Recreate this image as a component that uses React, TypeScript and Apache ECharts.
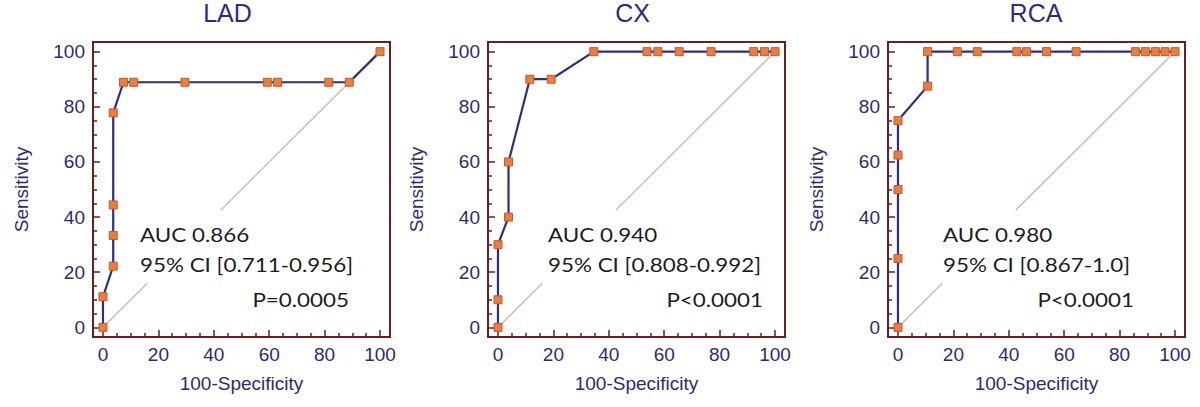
import React, { useEffect, useRef } from "react";
import * as echarts from "echarts";

// ---------- data ----------
const PANEL_TITLES = ["LAD", "CX", "RCA"];

const LAD_FPR = [0, 0, 3.7, 3.7, 3.7, 3.7, 7.4, 11.1, 29.6, 59.3, 63.0, 81.5, 88.9, 100];
const LAD_TPR = [0, 11.1, 22.2, 33.3, 44.4, 77.8, 88.9, 88.9, 88.9, 88.9, 88.9, 88.9, 88.9, 100];

const CX_FPR = [0, 0, 0, 3.8, 3.8, 11.5, 19.2, 34.6, 53.8, 57.7, 65.4, 76.9, 92.3, 96.2, 100];
const CX_TPR = [0, 10, 30, 40, 60, 90, 90, 100, 100, 100, 100, 100, 100, 100, 100];

const RCA_FPR = [0, 0, 0, 0, 0, 10.7, 10.7, 21.4, 28.6, 42.9, 46.4, 53.6, 64.3, 85.7, 89.3, 92.9, 96.4, 100];
const RCA_TPR = [0, 25, 50, 62.5, 75, 87.5, 100, 100, 100, 100, 100, 100, 100, 100, 100, 100, 100, 100];

const AUC_TEXTS = ["AUC 0.866", "AUC 0.940", "AUC 0.980"];
const CI_TEXTS = ["95% CI [0.711-0.956]", "95% CI [0.808-0.992]", "95% CI [0.867-1.0]"];
const P_TEXTS = ["P=0.0005", "P<0.0001", "P<0.0001"];

const MAJOR_TICKS = [0, 20, 40, 60, 80, 100];
const MINOR_TICKS = [5, 10, 15, 25, 30, 35, 45, 50, 55, 65, 70, 75, 85, 90, 95];

const DIAG_LOW = [[0, 0], [16, 16]];
const DIAG_HIGH = [[42.5, 42.5], [100, 100]];

const X_NAME = "100-Specificity";
const Y_NAME = "Sensitivity";

// ---------- layout / style ----------
const GRID_LEFT = [93, 488, 888];
const GRID_TOP = 42;
const GRID_W = 297;
const GRID_H = 295;
const X_MIN = -3.6;
const X_MAX = 103.6;
const Y_MIN = -3.5;
const Y_MAX = 103.5;

const TITLE_X = [227.5, 632.5, 1036];
const TITLE_Y = 12.5;
const NOTE_LEFT = [140, 548, 943];
const P_RIGHT = [349, 763, 1134];
const NOTE_Y = [234, 264, 299];

const FRAME = "#6B1E1E";
const NAVY = "#2B2A7A";
const TITLE_COLOR = "#2E2A86";
const CURVE = "#2D2E83";
const MARK = "#E97E3F";
const MARK_BORDER = "#C4592A";
const DIAG = "#C9C1BC";
const FONT = '"Liberation Sans", Arial, sans-serif';

export default function App() {
  const ref = useRef<HTMLDivElement>(null);

  useEffect(() => {
    document.body.style.margin = "0";
    if (!ref.current) return;
    const chart = echarts.init(ref.current, undefined, { renderer: "svg" });

    const curves = [
      [LAD_FPR, LAD_TPR],
      [CX_FPR, CX_TPR],
      [RCA_FPR, RCA_TPR],
    ];

    const grids: any[] = [];
    const xAxes: any[] = [];
    const yAxes: any[] = [];
    const series: any[] = [];
    const graphics: any[] = [];

    PANEL_TITLES.forEach((title, i) => {
      grids.push({
        left: GRID_LEFT[i],
        top: GRID_TOP,
        width: GRID_W,
        height: GRID_H,
        show: true,
        borderColor: FRAME,
        borderWidth: 2,
        backgroundColor: "transparent",
      });

      const common = {
        gridIndex: i,
        type: "value",
        splitLine: { show: false },
        axisLine: { show: false, onZero: false },
      };

      xAxes.push({
        ...common,
        min: X_MIN,
        max: X_MAX,
        position: "bottom",
        axisTick: {
          inside: true,
          length: 7,
          customValues: MAJOR_TICKS,
          lineStyle: { color: FRAME, width: 1.5 },
        },
        axisLabel: {
          customValues: MAJOR_TICKS,
          color: NAVY,
          fontSize: 19,
          fontFamily: FONT,
          margin: 8,
        },
        name: X_NAME,
        nameLocation: "middle",
        nameGap: 37,
        nameTextStyle: { color: NAVY, fontSize: 19, fontFamily: FONT },
      });
      xAxes.push({
        ...common,
        min: X_MIN,
        max: X_MAX,
        position: "bottom",
        axisTick: {
          inside: true,
          length: 4,
          customValues: MINOR_TICKS,
          lineStyle: { color: FRAME, width: 1.5 },
        },
        axisLabel: { show: false },
      });

      yAxes.push({
        ...common,
        min: Y_MIN,
        max: Y_MAX,
        position: "left",
        axisTick: {
          inside: true,
          length: 7,
          customValues: MAJOR_TICKS,
          lineStyle: { color: FRAME, width: 1.5 },
        },
        axisLabel: {
          customValues: MAJOR_TICKS,
          color: NAVY,
          fontSize: 19,
          fontFamily: FONT,
          margin: 8,
        },
        name: Y_NAME,
        nameLocation: "middle",
        nameGap: 62,
        nameTextStyle: { color: NAVY, fontSize: 19, fontFamily: FONT },
      });
      yAxes.push({
        ...common,
        min: Y_MIN,
        max: Y_MAX,
        position: "left",
        axisTick: {
          inside: true,
          length: 4,
          customValues: MINOR_TICKS,
          lineStyle: { color: FRAME, width: 1.5 },
        },
        axisLabel: { show: false },
      });

      const [fpr, tpr] = curves[i];
      const diagBase = {
        type: "line",
        xAxisIndex: 2 * i,
        yAxisIndex: 2 * i,
        symbol: "none",
        lineStyle: { color: DIAG, width: 1.5 },
        z: 1,
        silent: true,
      };
      series.push({ ...diagBase, name: title + " ref low", data: DIAG_LOW });
      series.push({ ...diagBase, name: title + " ref high", data: DIAG_HIGH });
      series.push({
        type: "line",
        name: title,
        xAxisIndex: 2 * i,
        yAxisIndex: 2 * i,
        data: fpr.map((x, k) => [x, tpr[k]]),
        symbol: "rect",
        symbolSize: 8,
        showAllSymbol: true,
        lineStyle: { color: CURVE, width: 2.2 },
        itemStyle: { color: MARK, borderColor: MARK_BORDER, borderWidth: 1 },
        z: 3,
        silent: true,
      });

      graphics.push({
        type: "text",
        x: TITLE_X[i],
        y: TITLE_Y,
        style: {
          text: title,
          font: `25px ${FONT}`,
          fill: TITLE_COLOR,
          textAlign: "center",
          textVerticalAlign: "middle",
        },
      });
      const noteStyle = { font: '20px Lato, "Open Sans", sans-serif', fill: "#1C1C1C", textVerticalAlign: "middle" };
      graphics.push({
        type: "text",
        x: NOTE_LEFT[i],
        y: NOTE_Y[0],
        scaleX: 1.12,
        style: { ...noteStyle, text: AUC_TEXTS[i], textAlign: "left" },
      });
      graphics.push({
        type: "text",
        x: NOTE_LEFT[i],
        y: NOTE_Y[1],
        scaleX: 1.12,
        style: { ...noteStyle, text: CI_TEXTS[i], textAlign: "left" },
      });
      graphics.push({
        type: "text",
        x: P_RIGHT[i],
        y: NOTE_Y[2],
        scaleX: 1.12,
        style: { ...noteStyle, text: P_TEXTS[i], textAlign: "right" },
      });
    });

    chart.setOption({
      animation: false,
      backgroundColor: "#ffffff",
      grid: grids,
      xAxis: xAxes,
      yAxis: yAxes,
      series,
      graphic: graphics,
    });

    return () => chart.dispose();
  }, []);

  return <div ref={ref} style={{ width: 1200, height: 407 }} />;
}
